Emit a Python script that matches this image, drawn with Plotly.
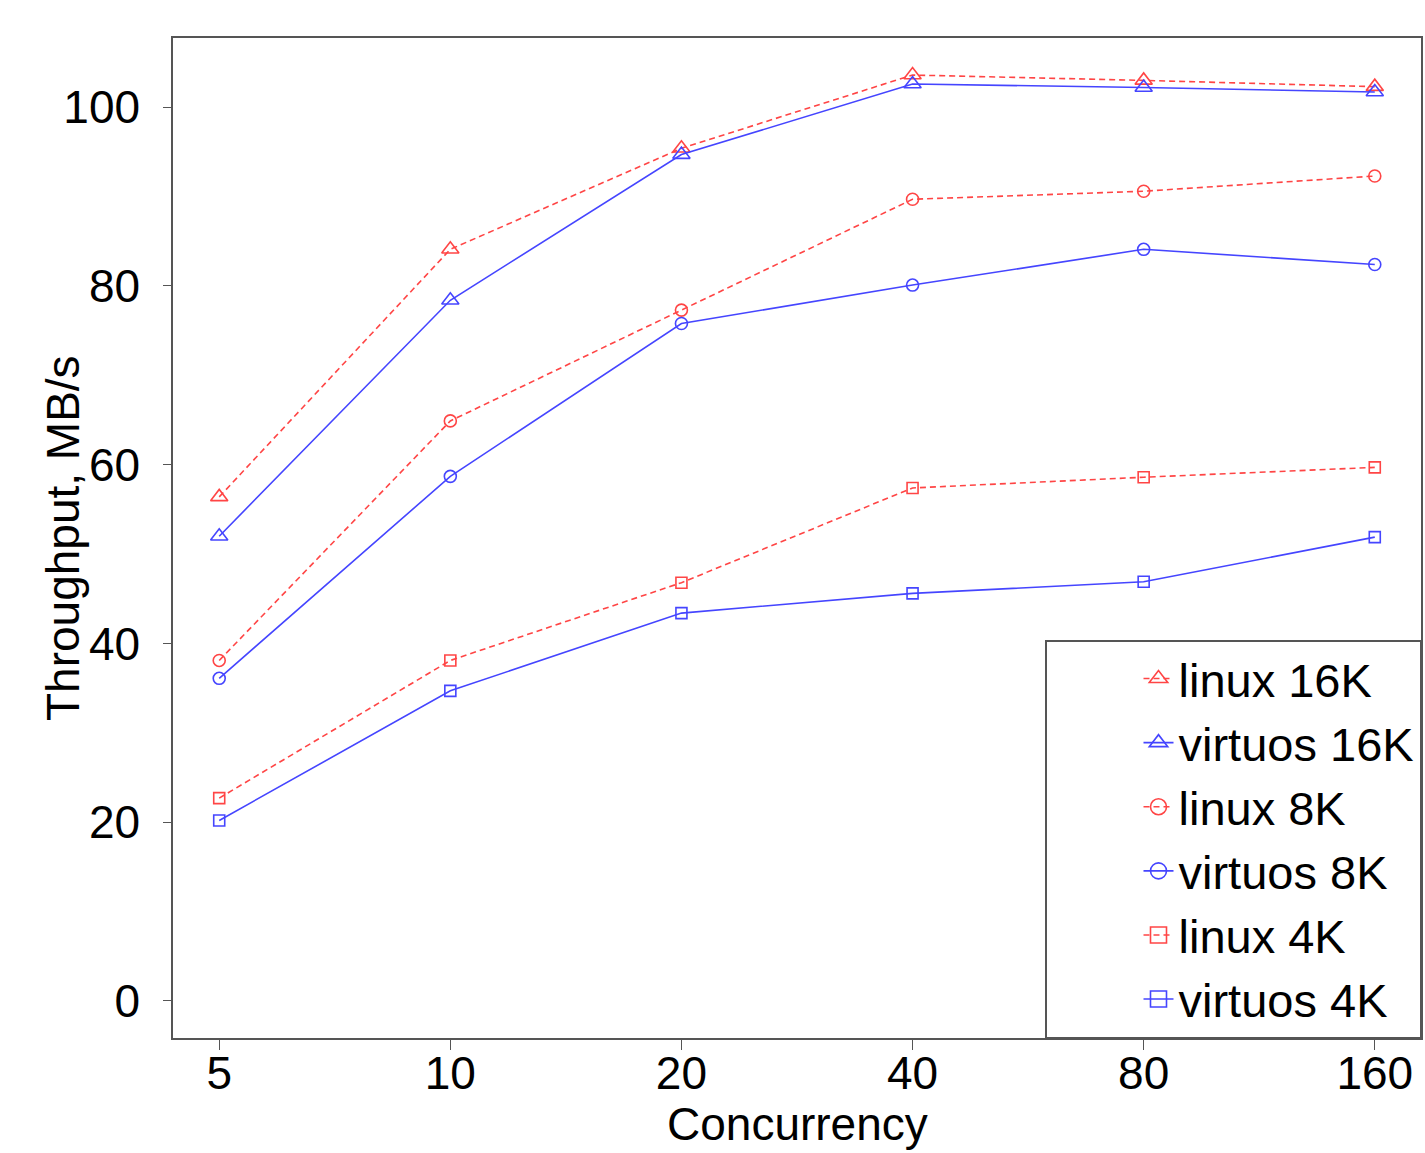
import plotly.graph_objects as go

concurrency = ["5", "10", "20", "40", "80", "160"]

linux_16k = [56.4, 84.1, 95.4, 103.6, 103.0, 102.3]
virtuos_16k = [52.0, 78.4, 94.7, 102.6, 102.2, 101.7]
linux_8k = [38.1, 64.9, 77.3, 89.7, 90.6, 92.3]
virtuos_8k = [36.1, 58.7, 75.8, 80.1, 84.1, 82.4]
linux_4k = [22.7, 38.1, 46.8, 57.4, 58.6, 59.7]
virtuos_4k = [20.2, 34.7, 43.4, 45.6, 46.9, 51.9]

series_names = ["linux 16K", "virtuos 16K", "linux 8K", "virtuos 8K", "linux 4K", "virtuos 4K"]
series_values = [linux_16k, virtuos_16k, linux_8k, virtuos_8k, linux_4k, virtuos_4k]
y_ticks = [0, 20, 40, 60, 80, 100]

RED = "#ff4545"
BLUE = "#4545ff"
FONT = "Liberation Sans, Arial, sans-serif"

styles = [
    dict(color=RED, dash="6px,4px", symbol="triangle-up-open", size=15),
    dict(color=BLUE, dash="solid", symbol="triangle-up-open", size=15),
    dict(color=RED, dash="6px,4px", symbol="circle-open", size=12),
    dict(color=BLUE, dash="solid", symbol="circle-open", size=12),
    dict(color=RED, dash="6px,4px", symbol="square-open", size=11),
    dict(color=BLUE, dash="solid", symbol="square-open", size=11),
]

fig = go.Figure()
for name, vals, st in zip(series_names, series_values, styles):
    fig.add_trace(go.Scatter(
        x=concurrency, y=vals, mode="lines+markers", name=name, showlegend=False,
        line=dict(color=st["color"], width=1.6, dash=st["dash"]),
        marker=dict(symbol=st["symbol"], size=st["size"], color=st["color"],
                    line=dict(color=st["color"], width=1.6)),
    ))
# legend entries (same styles, larger symbols)
for name, st in zip(series_names, styles):
    fig.add_trace(go.Scatter(
        x=[None], y=[None], mode="lines+markers", name=name, showlegend=True,
        line=dict(color=st["color"], width=1.6, dash=st["dash"]),
        marker=dict(symbol=st["symbol"], size=16, color=st["color"],
                    line=dict(color=st["color"], width=1.6)),
    ))

ymax = max(max(v) for v in series_values)
AX = "#555555"
fig.update_layout(
    width=1425, height=1153,
    margin=dict(l=173, r=2, t=38, b=115),
    plot_bgcolor="white", paper_bgcolor="white",
    font=dict(family=FONT, size=46, color="black"),
    xaxis=dict(
        type="category", categoryorder="array", categoryarray=concurrency,
        range=[-0.2, 5.2], showgrid=False, zeroline=False,
        showline=True, mirror=True, linecolor=AX, linewidth=1.5,
        ticks="outside", ticklen=10, tickcolor=AX, tickwidth=1.2,
        tickfont=dict(size=46), ticklabelstandoff=-16,
    ),
    yaxis=dict(
        range=[-0.04 * ymax, 1.04 * ymax], tickvals=y_ticks,
        showgrid=False, zeroline=False,
        showline=True, mirror=True, linecolor=AX, linewidth=1.5,
        ticks="outside", ticklen=8, tickcolor=AX, tickwidth=1.2,
        tickfont=dict(size=46), ticklabelstandoff=14,
    ),
    legend=dict(
        x=1, y=0, xanchor="right", yanchor="bottom",
        bgcolor="white", bordercolor=AX, borderwidth=1.5,
        font=dict(size=47, family=FONT), itemsizing="trace",
        tracegroupgap=0, indentation=92,
    ),
    annotations=[
        dict(text="Concurrency", xref="paper", yref="paper", x=0.5, y=0,
             xanchor="center", yanchor="top", yshift=-58, showarrow=False,
             font=dict(size=46, family=FONT)),
        dict(text="Throughput, MB/s", xref="paper", yref="paper", x=0, y=0.5,
             xanchor="center", yanchor="middle", xshift=-110, textangle=-90,
             showarrow=False, font=dict(size=46, family=FONT)),
    ],
)

fig.write_html("out.html")
